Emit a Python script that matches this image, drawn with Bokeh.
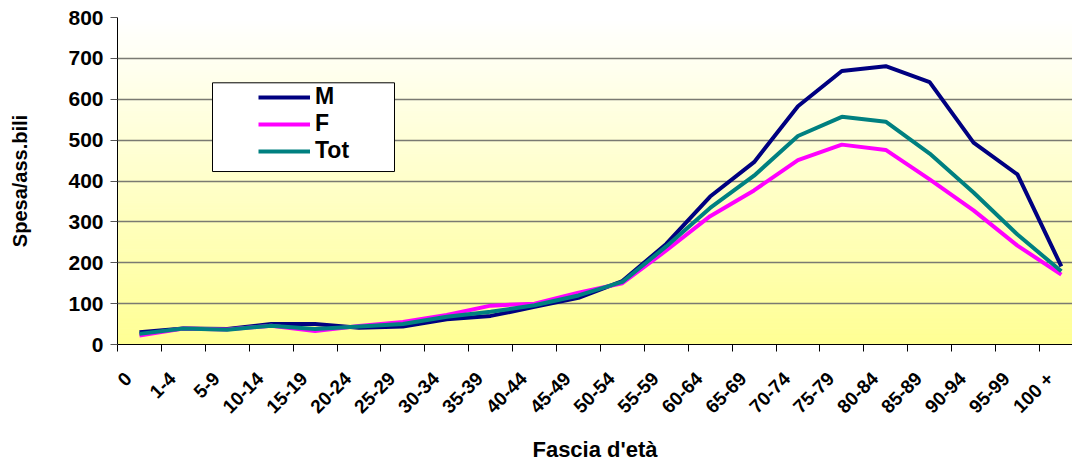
import numpy as np
from bokeh.plotting import figure
from bokeh.models import Range1d, FixedTicker, Legend, LegendItem, BoxAnnotation
from bokeh.embed import file_html
from bokeh.resources import INLINE

# ---- data ----
categories = ["0", "1-4", "5-9", "10-14", "15-19", "20-24", "25-29", "30-34",
              "35-39", "40-44", "45-49", "50-54", "55-59", "60-64", "65-69",
              "70-74", "75-79", "80-84", "85-89", "90-94", "95-99", "100 +"]
spesa_m = [30, 39, 38, 50, 50, 41, 44, 62, 70, 92, 114, 155, 246, 362, 446,
           583, 669, 681, 642, 494, 416, 191]
spesa_f = [22, 39, 37, 46, 33, 45, 55, 72, 95, 100, 127, 150, 230, 314, 377,
           451, 489, 476, 404, 328, 242, 171]
spesa_tot = [26, 39, 36, 46, 38, 44, 50, 68, 80, 96, 120, 153, 240, 334, 413,
             510, 557, 545, 467, 372, 269, 179]
y_ticks = [0, 100, 200, 300, 400, 500, 600, 700, 800]

# ---- layout ----
W, H = 1072, 464
B_LEFT, B_TOP, B_BOTTOM = 117, 17, 119
CAT_PX = 43.9
x_start = -0.5
x_end = x_start + (W - B_LEFT) / CAT_PX
y_start, y_end = 0, 800
frame_h = H - B_TOP - B_BOTTOM
px_y = frame_h / (y_end - y_start)
LABEL_SHIFT = 0.25  # tick labels sit slightly left of category centres

FONT = "Liberation Sans"

p = figure(width=W, height=H, output_backend="svg", toolbar_location=None,
           title=None,
           x_range=Range1d(x_start, x_end), y_range=Range1d(y_start, y_end),
           min_border_left=B_LEFT, min_border_right=0,
           min_border_top=B_TOP, min_border_bottom=B_BOTTOM)
p.outline_line_color = None
p.background_fill_color = "white"
p.border_fill_color = "white"

# gradient background (white top -> pale yellow bottom)
n = 120
edges = np.linspace(y_start, y_end, n + 1)
cols = []
for i in range(n):
    t = (i + 0.5) / n
    b = int(round(148 + (255 - 148) * t))
    cols.append("#%02x%02x%02x" % (255, 255, b))
p.quad(left=x_start, right=x_end, bottom=edges[:-1], top=edges[1:],
       fill_color=cols, line_color=cols, line_width=1, level="image")

# grid
p.xgrid.visible = False
p.ygrid.ticker = FixedTicker(ticks=y_ticks)
p.ygrid.grid_line_color = "#7a7a72"
p.ygrid.grid_line_width = 1.6

# data lines
xs = list(range(len(categories)))
r_m = p.line(xs, spesa_m, line_color="#000080", line_width=4)
r_f = p.line(xs, spesa_f, line_color="#FF00FF", line_width=4)
r_t = p.line(xs, spesa_tot, line_color="#008080", line_width=4)

# y axis
ya = p.yaxis[0]
ya.ticker = FixedTicker(ticks=y_ticks)
ya.major_tick_out = 7
ya.major_tick_in = 0
ya.minor_tick_out = 0
ya.minor_tick_in = 0
ya.axis_line_color = "black"
ya.major_tick_line_color = "#555555"
ya.major_label_text_font = FONT
ya.major_label_text_font_style = "bold"
ya.major_label_text_font_size = "21px"
ya.major_label_text_color = "black"
ya.major_label_standoff = 7
ya.axis_label = "Spesa/ass.bili"
ya.axis_label_text_font = FONT
ya.axis_label_text_font_style = "bold"
ya.axis_label_text_font_size = "20px"
ya.axis_label_text_color = "black"
ya.axis_label_standoff = 34

# x axis
xa = p.xaxis[0]
label_pos = [k - LABEL_SHIFT for k in xs]
xa.ticker = FixedTicker(ticks=label_pos,
                        minor_ticks=[k - 0.5 for k in range(len(categories) + 1)])
xa.major_label_overrides = {pos: c for pos, c in zip(label_pos, categories)}
xa.major_label_orientation = np.pi / 4
xa.major_tick_out = 0
xa.major_tick_in = 0
xa.minor_tick_out = 7
xa.minor_tick_in = 0
xa.minor_tick_line_color = "black"
xa.axis_line_color = "black"
xa.major_label_text_font = FONT
xa.major_label_text_font_style = "bold"
xa.major_label_text_font_size = "19px"
xa.major_label_text_color = "black"
xa.major_label_standoff = 24
xa.axis_label = "Fascia d'età"
xa.axis_label_text_font = FONT
xa.axis_label_text_font_style = "bold"
xa.axis_label_text_font_size = "22px"
xa.axis_label_text_color = "black"
xa.axis_label_standoff = 9

# legend box (white, black border)
box_l_px, box_r_px = 95, 277      # frame px from left
box_t_px, box_b_px = 65.5, 154.5  # frame px from top
box = BoxAnnotation(left=x_start + box_l_px / CAT_PX, right=x_start + box_r_px / CAT_PX,
                    top=y_end - box_t_px / px_y, bottom=y_end - box_b_px / px_y,
                    fill_color="white", fill_alpha=1.0,
                    line_color="black", line_width=1, line_alpha=1.0)
p.add_layout(box)

legend = Legend(items=[LegendItem(label="M", renderers=[r_m]),
                       LegendItem(label="F", renderers=[r_f]),
                       LegendItem(label="Tot", renderers=[r_t])],
                location=(141, 180))
legend.background_fill_alpha = 0
legend.border_line_color = None
legend.padding = 0
legend.margin = 0
legend.spacing = -3
legend.glyph_width = 52
legend.glyph_height = 20
legend.label_height = 20
legend.label_standoff = 5
legend.label_text_font = FONT
legend.label_text_font_style = "bold"
legend.label_text_font_size = "23px"
legend.label_text_color = "black"
p.add_layout(legend)

open("out.html", "w").write(file_html(p, INLINE))
